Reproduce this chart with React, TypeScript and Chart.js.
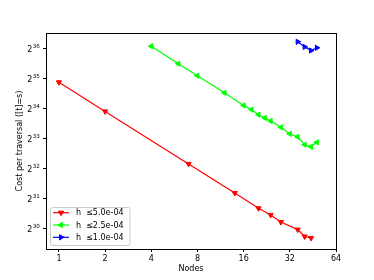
import React, { useEffect, useRef } from 'react';
import { Chart, registerables } from 'chart.js';

Chart.register(...registerables);

const nodesRed = [1, 2, 7, 14, 20, 24, 28, 36, 40, 44];
const log2CostRed = [34.89, 33.92, 32.17, 31.2, 30.69, 30.47, 30.23, 29.98, 29.75, 29.7];
const nodesGreen = [4, 6, 8, 12, 16, 18, 20, 22, 24, 28, 32, 36, 40, 44, 48];
const log2CostGreen = [36.09, 35.51, 35.11, 34.54, 34.12, 33.98, 33.81, 33.7, 33.6, 33.39, 33.17, 33.07, 32.81, 32.74, 32.89];
const nodesBlue = [36, 40, 44, 48];
const log2CostBlue = [36.24, 36.07, 35.95, 36.04];
const seriesLabels = ['h  \u22645.0e-04', 'h  \u22642.5e-04', 'h  \u22641.0e-04'];
const seriesColors = ['#ff0000', '#00ff00', '#0000ff'];
const seriesRotations = [180, -90, 90];
const xTicks = [1, 2, 4, 8, 16, 32, 64];
const yTickExponents = [30, 31, 32, 33, 34, 35, 36];

const FONT = "'DejaVu Sans', sans-serif";

function drawTri(ctx: CanvasRenderingContext2D, x: number, y: number, r: number, rotDeg: number) {
  let rad = (rotDeg * Math.PI) / 180;
  ctx.beginPath();
  ctx.moveTo(x + Math.sin(rad) * r, y - Math.cos(rad) * r);
  rad += (2 * Math.PI) / 3;
  ctx.lineTo(x + Math.sin(rad) * r, y - Math.cos(rad) * r);
  rad += (2 * Math.PI) / 3;
  ctx.lineTo(x + Math.sin(rad) * r, y - Math.cos(rad) * r);
  ctx.closePath();
  ctx.fill();
  ctx.stroke();
}

const frameAndLegend = {
  id: 'frameAndLegend',
  afterDatasetsDraw(chart: any) {
    const ctx: CanvasRenderingContext2D = chart.ctx;
    const a = chart.chartArea;
    ctx.save();
    // y tick labels: base 2 with superscript exponent
    const ys = chart.scales.y;
    const labelRight = a.left - 6.5;
    for (const e of yTickExponents) {
      const py = ys.getPixelForValue(Math.pow(2, e));
      const expText = String(e);
      ctx.fillStyle = '#000';
      ctx.textAlign = 'left';
      ctx.textBaseline = 'alphabetic';
      ctx.font = `5.6px ${FONT}`;
      const ew = ctx.measureText(expText).width;
      ctx.font = `8px ${FONT}`;
      const bw = ctx.measureText('2').width;
      const x0 = labelRight - ew - bw;
      ctx.fillText('2', x0, py + 3.3);
      ctx.font = `5.6px ${FONT}`;
      ctx.fillText(expText, x0 + bw + 0.3, py - 1.2);
    }
    // legend
    const bx = 50, by = 207, bw = 79.5, bh = 38;
    ctx.fillStyle = 'rgba(255,255,255,0.8)';
    ctx.strokeStyle = '#cccccc';
    ctx.lineWidth = 1;
    ctx.beginPath();
    (ctx as any).roundRect(bx + 0.5, by + 0.5, bw, bh, 2);
    ctx.fill();
    ctx.stroke();
    const rows = [212.7, 225, 237.3];
    for (let i = 0; i < 3; i++) {
      const y = rows[i];
      ctx.strokeStyle = seriesColors[i];
      ctx.lineWidth = 1.2;
      ctx.beginPath();
      ctx.moveTo(53, y);
      ctx.lineTo(69, y);
      ctx.stroke();
      ctx.fillStyle = seriesColors[i];
      ctx.lineWidth = 1;
      drawTri(ctx, 61, y, 3, seriesRotations[i]);
      ctx.fillStyle = '#000';
      ctx.font = `8px ${FONT}`;
      ctx.textBaseline = 'middle';
      ctx.textAlign = 'left';
      ctx.fillText(seriesLabels[i], 76, y + 0.5);
    }
    // frame
    ctx.strokeStyle = '#000';
    ctx.lineWidth = 1;
    ctx.strokeRect(Math.round(a.left) + 0.5, Math.round(a.top) + 0.5, Math.round(a.right - a.left), Math.round(a.bottom - a.top));
    ctx.restore();
  },
};

export default function App() {
  const ref = useRef<HTMLCanvasElement | null>(null);
  useEffect(() => {
    if (!ref.current) return;
    const mk = (xs: number[], es: number[]) => xs.map((x, i) => ({ x, y: Math.pow(2, es[i]) }));
    const data = [mk(nodesRed, log2CostRed), mk(nodesGreen, log2CostGreen), mk(nodesBlue, log2CostBlue)];
    const chart = new Chart(ref.current, {
      type: 'line',
      data: {
        datasets: data.map((d, i) => ({
          label: seriesLabels[i],
          data: d,
          borderColor: seriesColors[i],
          backgroundColor: seriesColors[i],
          borderWidth: 1.2,
          pointStyle: 'triangle',
          rotation: seriesRotations[i],
          pointRadius: 3,
          pointBorderWidth: 1,
          tension: 0,
        })),
      },
      plugins: [frameAndLegend],
      options: {
        animation: false,
        responsive: false,
        events: [],
        layout: { padding: { top: 33, right: 38, bottom: 0, left: 0 } },
        plugins: { legend: { display: false }, tooltip: { enabled: false } },
        scales: {
          x: {
            type: 'logarithmic',
            min: Math.pow(2, -0.28),
            max: 64,
            afterBuildTicks: (s: any) => { s.ticks = xTicks.map((v) => ({ value: v })); },
            afterFit: (s: any) => { s.height = 31; },
            border: { display: false },
            grid: { display: true, drawOnChartArea: false, drawTicks: true, tickLength: 3, tickColor: '#000' },
            ticks: {
              autoSkip: false, maxRotation: 0, minRotation: 0, padding: 2, color: '#000',
              font: { family: FONT, size: 8 },
              callback: (v: any) => String(v),
            },
            title: { display: true, text: 'Nodes', color: '#000', font: { family: FONT, size: 8 }, padding: { top: 0, bottom: 6 } },
          },
          y: {
            type: 'logarithmic',
            min: Math.pow(2, 29.333),
            max: Math.pow(2, 36.533),
            afterBuildTicks: (s: any) => { s.ticks = yTickExponents.map((e) => ({ value: Math.pow(2, e) })); },
            afterFit: (s: any) => { s.width = 46; },
            border: { display: false },
            grid: { display: true, drawOnChartArea: false, drawTicks: true, tickLength: 3, tickColor: '#000' },
            ticks: {
              display: false,
              autoSkip: false,
            },
            title: { display: true, text: 'Cost per traversal ([t]=s)', color: '#000', font: { family: FONT, size: 8 }, padding: { top: 15, bottom: 0 } },
          },
        },
      } as any,
    });
    return () => chart.destroy();
  }, []);
  return (
    <div style={{ position: 'fixed', left: 0, top: 0, width: 374, height: 280, background: '#fff' }}>
      <canvas ref={ref} width={374} height={280} style={{ display: 'block' }} />
    </div>
  );
}
